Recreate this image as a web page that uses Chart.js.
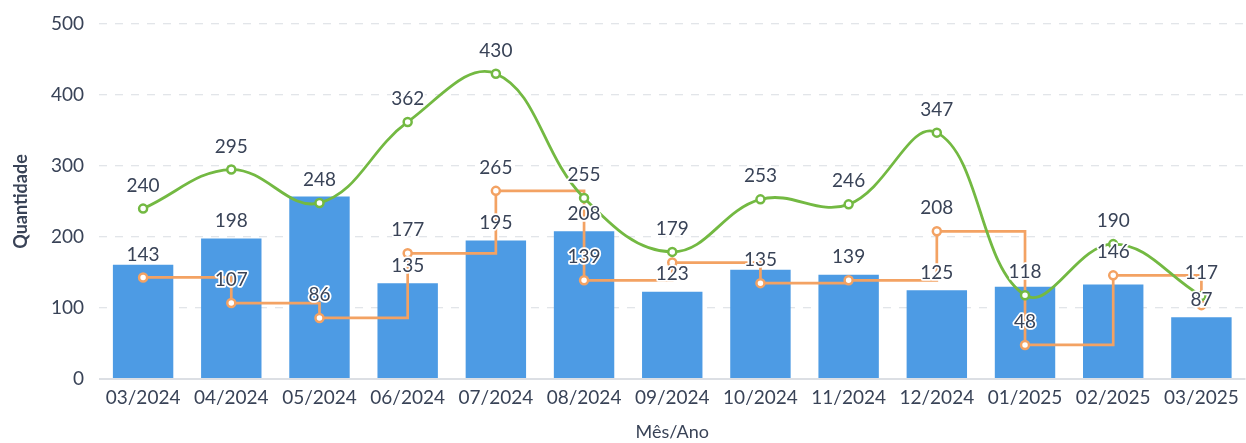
<!DOCTYPE html>
<html>
<head>
<meta charset="utf-8">
<script src="https://cdn.jsdelivr.net/npm/chart.js@4.4.1/dist/chart.umd.min.js"></script>
<style>
  html, body { margin: 0; padding: 0; background: #ffffff; overflow: hidden; }
  #wrap { width: 1246px; height: 443px; overflow: hidden; position: relative; }
  canvas { display: block; }
</style>
</head>
<body>
<div id="wrap"><canvas id="c" width="1252" height="443"></canvas></div>
<script>
const categories = ['03/2024', '04/2024', '05/2024', '06/2024', '07/2024', '08/2024', '09/2024', '10/2024', '11/2024', '12/2024', '01/2025', '02/2025', '03/2025'];
const barValues = [161, 198, 257, 135, 195, 208, 123, 154, 147, 125, 130, 133, 87];
const greenValues = [240, 295, 248, 362, 430, 255, 179, 253, 246, 347, 118, 190, 117];
const orangeValues = [143, 107, 86, 177, 265, 139, 164, 135, 139, 208, 48, 146, 104];
const yMin = 0, yMax = 500, yStep = 100;

const TEXT = '#394357';
const BLUE = '#4d9be4';
const GREEN = '#73b942';
const ORANGE = '#f3a263';

const labelPlugin = {
  id: 'valueLabels',
  afterDatasetsDraw(chart) {
    const ctx = chart.ctx;
    ctx.save();
    ctx.font = '19px Lato';
    ctx.textAlign = 'center';
    ctx.textBaseline = 'middle';
    ctx.lineJoin = 'round';
    const placed = [];
    const priority = [2, 1, 0];
    priority.forEach(di => {
      const ds = chart.data.datasets[di];
      const meta = chart.getDatasetMeta(di);
      meta.data.forEach((el, i) => {
        const txt = String(ds.data[i]);
        const off = ds.type === 'bar' ? 17.5 : 23;
        const x = el.x, y = el.y - off;
        const w = ctx.measureText(txt).width + 2, h = 18;
        const box = { l: x - w / 2, r: x + w / 2, t: y - h / 2, b: y + h / 2 };
        if (placed.some(p => p.l < box.r && box.l < p.r && p.t < box.b && box.t < p.b)) return;
        placed.push(box);
        ctx.strokeStyle = '#ffffff';
        ctx.lineWidth = 3.5;
        ctx.strokeText(txt, x, y);
        ctx.fillStyle = TEXT;
        ctx.fillText(txt, x, y);
      });
    });
    ctx.restore();
  }
};

new Chart(document.getElementById('c'), {
  data: {
    labels: categories,
    datasets: [
      {
        type: 'bar',
        label: 'Barras',
        data: barValues,
        backgroundColor: BLUE,
        barPercentage: 0.685,
        categoryPercentage: 1.0,
        order: 2
      },
      {
        type: 'line',
        label: 'Degraus',
        data: orangeValues,
        borderColor: ORANGE,
        borderWidth: 2.7,
        stepped: 'before',
        pointRadius: 4,
        pointBorderWidth: 2.5,
        pointBackgroundColor: '#ffffff',
        pointBorderColor: ORANGE,
        fill: false,
        order: 1
      },
      {
        type: 'line',
        label: 'Linha',
        data: greenValues,
        borderColor: GREEN,
        borderWidth: 2.8,
        tension: 0.4,
        pointRadius: 4,
        pointBorderWidth: 2.5,
        pointBackgroundColor: '#ffffff',
        pointBorderColor: GREEN,
        fill: false,
        order: 0
      }
    ]
  },
  options: {
    responsive: false,
    animation: false,
    devicePixelRatio: 1,
    layout: { padding: { top: 24, right: 0, bottom: 0, left: 0 } },
    plugins: { legend: { display: false }, tooltip: { enabled: false } },
    scales: {
      x: {
        offset: true,
        grid: { display: false },
        border: { display: false },
        ticks: { color: TEXT, font: { family: 'Lato', size: 19 }, padding: -1, maxRotation: 0, autoSkip: false },
        title: { display: true, text: 'Mês/Ano', color: TEXT, font: { family: 'Lato', size: 18 }, padding: { top: 0, bottom: 0 } },
        afterFit(s) { s.height = 64; }
      },
      y: {
        min: yMin,
        max: yMax,
        ticks: { stepSize: yStep, color: TEXT, font: { family: 'Lato', size: 19 }, padding: 15 },
        grid: {
          drawTicks: false,
          color: c => c.tick && c.tick.value === 0 ? '#dcdfe4' : '#e2e5e9',
          lineWidth: c => c.tick && c.tick.value === 0 ? 2 : 1.3
        },
        border: { display: false, dash: c => c.tick && c.tick.value === 0 ? [] : [8, 8] },
        title: { display: true, text: 'Quantidade', color: TEXT, font: { family: 'Lato', size: 18, weight: 'bold' }, padding: { top: 10, bottom: 0 } },
        afterFit(s) { s.width = 99; s.paddingTop = 0; s.paddingBottom = 0; }
      }
    }
  },
  plugins: [labelPlugin]
});
</script>
</body>
</html>
